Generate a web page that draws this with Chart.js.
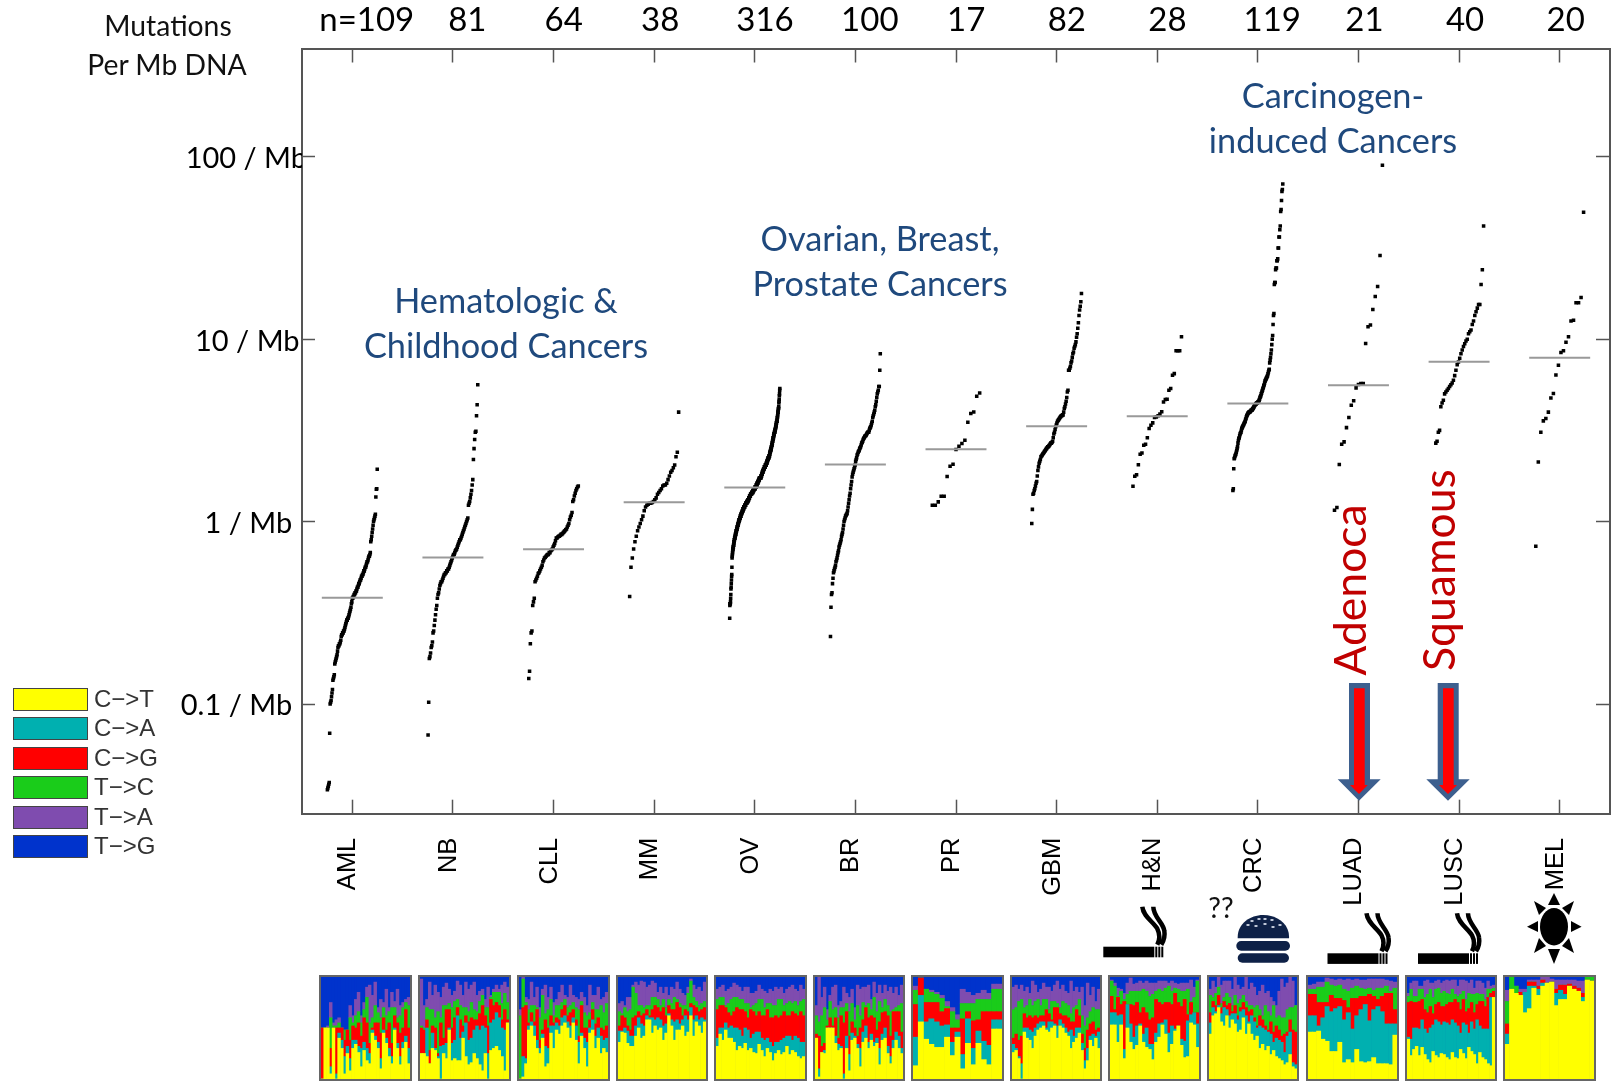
<!DOCTYPE html>
<html><head><meta charset="utf-8">
<script src="https://cdn.jsdelivr.net/npm/chart.js@4/dist/chart.umd.min.js"></script>
<style>
html,body{margin:0;padding:0;background:#fff;width:1614px;height:1081px;overflow:hidden}
#main{position:absolute;left:0;top:0}
.t{position:absolute;white-space:nowrap;transform:translate(-50%,-50%);font-family:Lato,sans-serif;z-index:3}
.blue{color:#1F497D;font-size:34.3px}
.note{color:#111;font-size:28.3px}
.red{color:#C00000;font-size:44.5px;transform:translate(-50%,-50%) rotate(-90deg)}
.strip{position:absolute;top:975px;height:106px;box-sizing:border-box;border:2px solid #666;overflow:hidden;background:#03c}
.strip canvas{display:block}
.sw{position:absolute;left:13px;width:73px;height:21px;border:1px solid #444;z-index:3}
.lg{position:absolute;left:94px;font:24px "Liberation Sans",Arial,sans-serif;color:#333;z-index:3;line-height:23px}
svg#ov{position:absolute;left:0;top:0;z-index:2}
</style></head><body>
<canvas id="main" width="1614" height="1081"></canvas>
<div id="strips"></div>
<div id="labels"></div>
<svg id="ov" width="1614" height="1081" viewBox="0 0 1614 1081">
<defs><g id="cig" fill="#000">
<rect x="0" y="0" width="51" height="10.6"/><rect x="52" y="0" width="2" height="10.6"/><rect x="55" y="0" width="2" height="10.6"/><rect x="58" y="0" width="2" height="10.6"/>
<path d="M39,-40C40,-30 50,-25 54,-18C57,-12 56,-6 54,-2M50,-40C50,-30 60,-24 61,-16C62,-10 60,-5 58,-2" fill="none" stroke="#000" stroke-width="4.5"/>
</g></defs>
<use href="#cig" x="1103.3" y="946.7"/><use href="#cig" x="1327.5" y="953.3"/><use href="#cig" x="1418" y="953.3"/>
<g fill="#0E2147">
<path d="M1237.7,938.3C1237,924 1250,915 1263,915C1277,915 1290,924 1289,938.3Z"/>
<rect x="1236.3" y="941" width="53.7" height="9.7" rx="4.8"/>
<rect x="1237.7" y="953.3" width="51.3" height="9.4" rx="4.7"/>
</g>
<g fill="#cfd6e4"><ellipse cx="1252" cy="921" rx="1.8" ry="1"/><ellipse cx="1259" cy="919" rx="1.8" ry="1"/><ellipse cx="1265" cy="919" rx="1.8" ry="1"/><ellipse cx="1272" cy="920" rx="1.8" ry="1"/><ellipse cx="1248" cy="925" rx="1.8" ry="1"/><ellipse cx="1256" cy="926" rx="1.8" ry="1"/><ellipse cx="1265" cy="924" rx="1.8" ry="1"/><ellipse cx="1273" cy="927" rx="1.8" ry="1"/><ellipse cx="1280" cy="925" rx="1.8" ry="1"/></g>
<g fill="#000"><ellipse cx="1554" cy="926.7" rx="14" ry="18.7"/>
<polygon points="1554,893 1548,905 1560,905"/><polygon points="1554,964 1548,949 1560,949"/><polygon points="1527,926.7 1538,921 1538,932"/><polygon points="1581.6,926.7 1571,921 1571,932"/>
<polygon points="1534,901 1546,908 1539,915"/><polygon points="1574,901 1562,908 1569,915"/><polygon points="1534,953 1546,946 1539,938"/><polygon points="1574,953 1562,946 1569,938"/></g>
<g fill="#3D5F8E"><polygon points="1349,683 1370,683 1370,779.3 1380.7,779.3 1359,800.7 1337.7,779.3 1349,779.3"/><polygon points="1437.7,683 1458.7,683 1458.7,779.3 1469.7,779.3 1448,800.7 1426.3,779.3 1437.7,779.3"/></g>
<g fill="#FF0000"><polygon points="1354,688.3 1364.7,688.3 1364.7,785 1367.7,785 1359,794 1350,785 1354,785"/><polygon points="1443,688.3 1453.7,688.3 1453.7,785 1457,785 1448,794 1439,785 1443,785"/></g>
</svg>
<script>
// ---- categories, tick labels ----
const cancerCodes=["AML","NB","CLL","MM","OV","BR","PR","GBM","H&N","CRC","LUAD","LUSC","MEL"];
const sampleCounts=["n=109","81","64","38","316","100","17","82","28","119","21","40","20"];
const yTickValues=[0.1,1,10,100];
const yTickLabels=["0.1 / Mb","1 / Mb","10 / Mb","100 / Mb"];
// medians (mutations per Mb)
const medians=[0.383,0.635,0.705,1.276,1.537,2.055,2.49,3.33,3.78,4.44,5.59,7.51,7.9];
// ---- per-sample mutation rates, sorted, as log10(mutations per Mb) ----
const AML=[-1.47,-1.46,-1.45,-1.44,-1.43,-1.16,-1.00,-.99,-.98,-.96,-.94,-.92,-.87,-.86,-.85,-.84,-.78,-.77,-.76,-.75,-.74,-.73,-.71,-.69,-.68,-.68,-.67,-.67,-.66,-.65,-.63,-.62,-.62,-.61,-.61,-.60,-.60,-.59,-.58,-.57,-.56,-.55,-.54,-.54,-.53,-.53,-.52,-.51,-.50,-.49,-.48,-.47,-.45,-.44,-.42,-.42,-.41,-.41,-.40,-.40,-.39,-.39,-.38,-.38,-.37,-.36,-.36,-.35,-.34,-.34,-.33,-.32,-.32,-.31,-.30,-.30,-.29,-.29,-.28,-.27,-.27,-.26,-.25,-.25,-.24,-.23,-.22,-.22,-.21,-.20,-.19,-.19,-.18,-.17,-.11,-.10,-.08,-.06,-.04,-.02,0,.01,.02,.03,.04,.135,.177,.18,.287];
const NB=[-1.17,-.99,-.75,-.74,-.72,-.69,-.68,-.66,-.61,-.60,-.57,-.54,-.51,-.48,-.46,-.42,-.40,-.39,-.37,-.35,-.34,-.33,-.33,-.32,-.31,-.30,-.29,-.29,-.28,-.28,-.27,-.27,-.26,-.26,-.25,-.24,-.23,-.22,-.21,-.20,-.19,-.18,-.18,-.17,-.16,-.155,-.15,-.14,-.13,-.12,-.11,-.10,-.10,-.09,-.08,-.07,-.06,-.05,-.04,-.03,-.02,-.01,0,.01,.02,.09,.10,.11,.13,.15,.17,.20,.23,.34,.40,.45,.49,.495,.58,.64,.75];
const CLL=[-.86,-.82,-.67,-.61,-.60,-.46,-.44,-.42,-.33,-.32,-.31,-.30,-.285,-.28,-.27,-.26,-.25,-.24,-.22,-.21,-.20,-.195,-.19,-.185,-.18,-.18,-.17,-.17,-.16,-.155,-.15,-.14,-.13,-.12,-.105,-.09,-.09,-.085,-.08,-.08,-.075,-.07,-.07,-.065,-.06,-.055,-.05,-.045,-.04,-.03,-.02,-.01,.01,.025,.035,.05,.11,.12,.14,.155,.17,.18,.19,.195];
const MM=[-.41,-.25,-.20,-.15,-.11,-.08,-.05,-.03,-.01,.01,.03,.06,.08,.09,.095,.10,.10,.105,.11,.12,.13,.15,.16,.17,.18,.195,.20,.20,.21,.23,.25,.27,.28,.295,.31,.355,.38,.60];
const OV=[-.53,-.46,-.45,-.45,-.45,-.44,-.42,-.40,-.37,-.36,-.34,-.32,-.30,-.29,-.25,-.20,-.19,-.18,-.17,-.16,-.15,-.15,-.14,-.14,-.13,-.13,-.12,-.11,-.11,-.10,-.10,-.09,-.09,-.09,-.08,-.08,-.07,-.07,-.07,-.06,-.06,-.05,-.05,-.05,-.04,-.04,-.04,-.03,-.03,-.03,-.02,-.02,-.02,-.01,-.01,-.01,0,0,0,.01,.01,.01,.01,.02,.02,.02,.02,.03,.03,.03,.03,.04,.04,.04,.04,.05,.05,.05,.05,.05,.06,.06,.06,.06,.07,.07,.07,.07,.07,.08,.08,.08,.08,.08,.08,.09,.09,.09,.09,.09,.09,.10,.10,.10,.10,.10,.10,.10,.11,.11,.11,.11,.11,.11,.11,.12,.12,.12,.12,.12,.13,.13,.13,.13,.13,.14,.14,.14,.14,.14,.14,.15,.15,.15,.15,.15,.15,.15,.16,.16,.16,.16,.16,.16,.16,.16,.17,.17,.17,.17,.17,.17,.18,.18,.18,.18,.18,.18,.18,.18,.19,.19,.19,.19,.19,.19,.19,.20,.20,.20,.20,.20,.21,.21,.21,.21,.21,.22,.22,.22,.22,.22,.23,.23,.23,.23,.23,.24,.24,.24,.24,.24,.24,.24,.24,.24,.24,.25,.25,.25,.25,.26,.26,.26,.26,.27,.27,.27,.27,.28,.28,.28,.28,.29,.29,.29,.29,.29,.30,.30,.30,.30,.30,.30,.31,.31,.31,.31,.31,.31,.32,.32,.32,.32,.33,.33,.33,.33,.34,.34,.34,.34,.35,.35,.35,.35,.35,.36,.36,.36,.36,.37,.37,.38,.38,.38,.39,.39,.39,.40,.40,.40,.41,.41,.42,.42,.42,.43,.43,.44,.44,.45,.45,.46,.46,.46,.47,.47,.48,.48,.48,.49,.49,.49,.50,.50,.50,.51,.51,.52,.52,.53,.53,.54,.54,.55,.55,.55,.56,.57,.57,.58,.59,.60,.60,.61,.62,.62,.63,.65,.66,.67,.69,.70,.72,.73];
const BR=[-.63,-.47,-.40,-.39,-.34,-.31,-.28,-.27,-.26,-.25,-.24,-.22,-.21,-.20,-.185,-.17,-.16,-.14,-.13,-.12,-.11,-.10,-.08,-.07,-.06,-.04,-.02,0,.01,.02,.03,.035,.04,.045,.06,.08,.10,.12,.14,.155,.18,.20,.22,.245,.26,.27,.28,.29,.30,.31,.33,.34,.35,.365,.37,.38,.385,.39,.40,.405,.41,.42,.43,.435,.44,.45,.455,.46,.465,.47,.47,.475,.48,.485,.49,.49,.49,.50,.51,.515,.52,.53,.54,.55,.57,.58,.59,.60,.61,.63,.64,.66,.68,.70,.71,.72,.74,.74,.83,.92];
const PR=[.09,.09,.108,.139,.139,.247,.303,.314,.395,.413,.428,.446,.545,.592,.601,.687,.705];
const GBM=[-.01,.067,.15,.155,.17,.18,.195,.21,.22,.25,.28,.30,.32,.33,.34,.355,.36,.365,.37,.375,.38,.385,.39,.395,.40,.405,.41,.41,.415,.42,.425,.43,.43,.435,.44,.46,.48,.49,.505,.52,.53,.54,.55,.555,.56,.565,.57,.575,.58,.58,.585,.585,.60,.62,.63,.645,.66,.68,.71,.72,.83,.83,.84,.85,.87,.88,.90,.92,.93,.95,.96,.97,.985,1.01,1.03,1.06,1.09,1.13,1.16,1.18,1.205,1.25];
const HN=[.194,.248,.257,.312,.369,.376,.418,.424,.459,.51,.528,.541,.57,.574,.58,.589,.602,.656,.669,.67,.72,.729,.802,.811,.936,.936,.936,1.013];
const CRC=[.17,.18,.29,.345,.35,.36,.365,.37,.38,.39,.40,.41,.43,.445,.455,.46,.47,.48,.485,.49,.50,.51,.515,.52,.525,.53,.535,.54,.545,.55,.56,.565,.575,.58,.585,.59,.595,.595,.60,.60,.60,.605,.605,.61,.61,.61,.615,.62,.62,.625,.63,.635,.64,.64,.645,.645,.65,.65,.65,.655,.655,.66,.665,.67,.68,.685,.69,.70,.705,.715,.72,.73,.735,.745,.75,.76,.77,.775,.78,.785,.79,.795,.80,.81,.82,.83,.835,.87,.885,.90,.92,.94,.97,1.0,1.02,1.08,1.13,1.14,1.30,1.31,1.31,1.38,1.39,1.39,1.43,1.43,1.44,1.50,1.50,1.56,1.56,1.60,1.62,1.70,1.71,1.76,1.81,1.82,1.85];
const LUAD=[.062,.077,.313,.424,.437,.515,.57,.638,.662,.733,.751,.757,.757,.976,1.068,1.077,1.163,1.234,1.289,1.459,1.953];
const LUSC=[-.026,.43,.44,.49,.50,.63,.65,.665,.70,.71,.72,.73,.74,.75,.76,.775,.80,.83,.86,.875,.895,.92,.94,.96,.975,.99,1.0,1.03,1.04,1.05,1.08,1.10,1.13,1.15,1.17,1.19,1.19,1.30,1.38,1.62];
const MEL=[-.135,.327,.49,.552,.565,.6,.678,.702,.803,.857,.927,.936,.983,1.013,1.1,1.104,1.2,1.2,1.228,1.695];
const sampleLog10=[AML,NB,CLL,MM,OV,BR,PR,GBM,HN,CRC,LUAD,LUSC,MEL];

// ---- spectra: cumulative percent at the top of each band, per sample column ----
const subLabels=["C\u2212>T","C\u2212>A","C\u2212>G","T\u2212>C","T\u2212>A","T\u2212>G"];
const subColors=["#FFFF00","#00B0B0","#FF0000","#1ACC1A","#7F4CAF","#0033CC"];
const AML_CT=[0,50,50,5,50,0,40,30,5,25,8,30,34,26,12,28,18,15,45,38,30,10,45,35,22,15,48,30,14,30,36,15];
const AML_CA=[0,50,50,12,50,5,45,38,22,32,20,38,38,32,30,36,30,25,48,42,36,20,48,40,30,22,50,35,22,36,42,30];
const AML_CG=[50,50,50,30,50,50,50,50,38,48,38,52,50,55,42,60,55,35,50,55,55,45,60,48,55,35,62,55,45,50,68,50];
const AML_TC=[50,50,50,60,52,52,55,50,48,48,60,55,62,66,55,68,80,55,60,72,65,60,70,62,66,70,70,60,62,70,75,72];
const AML_TA=[50,50,52,75,55,58,60,50,48,48,72,62,78,85,62,75,90,92,82,95,70,78,75,88,70,85,76,88,72,75,78,80];
const NB_CT=[25,25,22,15,30,28,20,0,25,20,48,18,20,18,18,40,22,14,16,25,20,14,8,25,0,28,30,32,28,22,8,55];
const NB_CA=[25,25,50,15,45,30,22,32,33,35,50,35,38,62,40,46,55,38,40,48,52,48,52,50,25,55,58,65,60,50,48,55];
const NB_CG=[50,48,58,28,52,50,25,55,40,68,68,50,60,70,58,52,62,56,60,58,58,64,72,62,52,78,72,75,72,58,68,58];
const NB_TC=[52,50,70,68,68,60,66,60,72,72,74,70,76,78,72,70,70,66,75,68,66,76,82,70,70,80,85,85,85,74,84,75];
const NB_TA=[98,72,78,95,82,92,85,80,90,94,88,82,86,96,92,82,95,88,92,95,82,86,88,78,90,82,88,92,88,92,95,90];
const CLL_CT=[0,2,15,48,52,42,30,25,40,12,15,45,30,48,44,52,55,50,40,55,38,15,42,30,12,45,48,30,40,25,30,26];
const CLL_CA=[0,22,20,52,56,52,38,30,44,32,30,52,52,55,52,60,62,56,52,60,52,36,45,40,36,50,58,42,50,42,38,40];
const CLL_CG=[0,70,72,55,65,56,68,38,48,58,50,62,55,60,58,68,72,62,65,68,58,42,72,50,50,58,68,54,60,50,48,52];
const CLL_TC=[62,98,75,68,72,72,70,60,82,64,68,78,62,72,72,75,78,70,72,75,70,68,76,65,62,65,75,68,68,72,65,74];
const CLL_TA=[68,100,80,78,95,80,90,70,88,92,80,90,75,78,85,92,82,80,92,82,80,78,85,80,72,92,82,82,90,78,80,85];
const MM_CT=[36,46,45,35,32,32,42,50,40,42,58,58,45,52,48,50,38,45,62,52,38,48,48,52,42,46,62,42,56,52,45,56];
const MM_CA=[47,47,50,47,42,42,52,60,54,52,62,60,60,58,60,58,52,54,64,58,56,58,54,58,62,58,70,58,62,58,60,58];
const MM_CG=[52,62,60,52,48,60,62,66,62,64,68,62,68,72,70,66,70,62,72,68,68,75,70,62,68,66,74,72,70,66,68,70];
const MM_TC=[66,64,70,66,68,90,84,72,72,70,72,72,80,80,78,72,78,70,78,74,80,78,74,72,72,84,96,80,76,72,74,76];
const MM_TA=[74,76,72,80,80,92,95,92,96,95,90,92,96,94,85,90,84,90,82,90,88,95,88,84,82,90,98,92,88,90,86,95];
const OV_CT=[32,44,38,48,40,40,36,28,32,30,35,28,30,26,25,34,28,22,30,26,18,25,28,24,26,32,24,28,26,22,20,22];
const OV_CA=[40,50,50,55,50,52,50,50,48,42,50,48,40,44,46,46,40,38,40,36,32,36,36,38,40,42,42,38,42,40,36,36];
const OV_CG=[68,72,72,70,65,62,66,70,68,68,66,60,68,66,62,66,62,62,68,60,60,62,60,62,66,62,62,66,64,62,66,62];
const OV_TC=[78,80,80,72,74,78,80,80,78,78,74,74,70,72,74,78,78,70,74,74,72,72,78,78,72,74,76,74,76,72,76,78];
const OV_TA=[88,90,92,86,88,90,94,92,90,86,90,90,84,84,86,92,88,86,84,88,86,90,88,90,84,88,90,92,88,86,92,88];
const BR_CT=[40,2,26,25,50,50,50,35,28,30,0,30,8,38,40,30,12,36,40,30,38,32,35,14,38,40,25,15,30,38,30,25];
const BR_CA=[40,10,26,28,50,50,50,42,34,32,5,42,24,45,42,34,30,46,52,36,44,36,40,30,44,50,32,22,38,46,42,30];
const BR_CG=[44,42,32,35,52,60,52,60,40,62,55,66,42,56,50,42,50,58,70,60,62,60,48,56,65,66,62,42,66,66,66,46];
const BR_TC=[62,56,62,70,58,76,68,70,60,70,70,74,66,74,58,72,62,75,72,74,68,80,66,76,70,78,72,66,68,70,72,74];
const BR_TA=[72,100,80,90,68,82,90,92,72,76,90,84,80,88,70,92,88,90,90,92,78,95,84,92,84,92,86,90,84,90,82,92];
const PR_CT=[13,56,39,34,31,31,41,23,41,10,35,14,35,19,14,49,49];
const PR_CA=[41,82,56,59,56,52,53,36,46,24,59,30,47,37,33,58,58];
const PR_CG=[73,99,75,75,75,66,69,50,50,59,66,57,58,66,66,66,66];
const PR_TC=[87,99,88,85,83,79,71,66,58,74,74,74,78,78,78,88,88];
const PR_TA=[91,99,88,87,85,82,76,70,63,88,85,82,84,87,84,93,93];
const GBM_CT=[26,28,20,0,46,40,38,30,42,48,50,52,48,46,50,52,40,52,50,45,42,30,36,40,45,28,10,18,38,32,40,30];
const GBM_CA=[34,30,22,15,50,50,48,46,50,54,56,56,50,56,56,54,52,58,54,50,46,48,42,50,50,35,18,30,42,44,42,46];
const GBM_CG=[40,44,38,42,64,60,62,60,62,60,62,62,68,64,58,70,70,64,62,62,60,56,56,68,62,44,30,48,54,56,48,50];
const GBM_TC=[68,70,76,78,70,72,78,72,76,78,72,78,78,68,76,76,74,70,76,74,72,64,70,72,78,62,52,60,66,70,68,68];
const GBM_TA=[90,92,88,92,86,90,84,96,92,85,88,94,90,90,86,92,96,88,92,86,84,96,86,90,85,90,72,94,82,90,76,88];
const HN_CT=[53,53,36,53,20,50,36,29,33,52,36,31,29,19,36,41,53,44,26,34,47,52,33,21,22,55,53,31];
const HN_CA=[65,65,62,63,29,73,54,41,52,54,44,50,34,34,45,54,55,58,45,52,49,52,39,37,57,63,65,54];
const HN_CG=[81,68,80,73,76,68,73,72,75,65,70,65,58,60,78,75,73,75,75,73,84,75,71,78,63,75,63,65];
const HN_TC=[96,91,81,86,78,78,86,86,86,86,88,86,81,83,86,88,86,89,91,86,89,88,86,86,88,76,78,96];
const HN_TA=[97,94,89,88,84,89,99,93,94,96,94,96,94,94,94,96,96,96,94,96,94,93,94,94,94,97,88,97];
const CRC_CT=[44,62,64,70,56,52,62,50,58,54,46,48,60,44,54,44,38,42,30,34,28,32,24,28,22,20,18,14,16,24,12,10];
const CRC_CA=[55,70,66,72,64,70,68,62,64,64,58,66,68,62,56,62,56,50,52,50,48,46,44,36,40,38,36,26,42,46,16,14];
const CRC_CG=[65,76,72,82,70,76,72,74,66,72,62,70,75,70,66,68,60,52,62,58,52,48,56,46,52,48,42,44,46,58,48,46];
const CRC_TC=[82,80,84,90,74,80,84,80,72,82,74,78,82,76,72,72,70,72,68,62,72,66,62,72,60,62,60,60,68,70,70,72];
const CRC_TA=[88,96,90,100,92,96,96,96,88,100,92,88,90,100,88,94,90,82,86,92,84,86,80,76,72,86,98,90,94,100,96,72];
const LUAD_CT=[46,46,47,39,37,27,27,36,16,19,16,29,17,16,17,21,15,15,15,14,43];
const LUAD_CA=[62,62,52,60,71,66,69,71,58,65,49,62,68,73,57,68,71,66,54,54,54];
const LUAD_CG=[83,83,75,75,75,82,79,79,77,70,79,79,81,81,83,81,78,81,84,84,68];
const LUAD_TC=[88,88,90,90,95,92,91,92,88,86,89,91,89,88,89,87,89,89,91,86,89];
const LUAD_TA=[92,93,95,95,99,98,97,98,97,98,97,98,97,97,98,98,98,98,97,96,95];
const LUSC_CT=[39,23,29,32,23,31,24,19,16,27,23,21,25,24,21,19,26,21,20,29,25,20,31,27,24,15,26,21,19,15,13,80];
const LUSC_CA=[41,39,50,50,49,58,49,45,50,53,58,56,53,56,55,53,58,55,52,45,55,53,45,56,49,58,52,49,49,49,80,80];
const LUSC_CG=[75,76,75,75,76,78,68,65,71,64,73,75,71,71,73,75,75,78,75,68,78,66,69,75,65,73,76,76,71,80,84,86];
const LUSC_TC=[81,88,81,81,88,88,80,83,88,80,88,89,84,86,84,83,88,83,81,83,86,78,84,83,83,84,83,83,78,88,88,89];
const LUSC_TA=[84,94,96,96,91,91,96,97,94,94,96,97,94,96,97,96,97,97,91,97,97,96,94,97,89,96,96,94,89,96,91,92];
const MEL_CT=[34,88,84,82,65,69,89,82,91,94,95,72,78,78,91,88,86,76,97,96];
const MEL_CA=[44,88,84,82,85,91,91,88,94,94,95,84,87,83,91,88,86,80,97,96];
const MEL_CG=[54,88,84,85,85,95,95,91,97,94,95,88,92,92,93,91,89,84,97,96];
const MEL_TC=[76,100,91,85,85,95,95,91,97,94,95,88,92,92,93,91,89,84,100,100];
const MEL_TA=[87,100,91,88,88,97,97,97,100,100,98,97,97,97,97,97,96,96,100,100];
const spectra=[[AML_CT,AML_CA,AML_CG,AML_TC,AML_TA],[NB_CT,NB_CA,NB_CG,NB_TC,NB_TA],[CLL_CT,CLL_CA,CLL_CG,CLL_TC,CLL_TA],[MM_CT,MM_CA,MM_CG,MM_TC,MM_TA],[OV_CT,OV_CA,OV_CG,OV_TC,OV_TA],[BR_CT,BR_CA,BR_CG,BR_TC,BR_TA],[PR_CT,PR_CA,PR_CG,PR_TC,PR_TA],[GBM_CT,GBM_CA,GBM_CG,GBM_TC,GBM_TA],[HN_CT,HN_CA,HN_CG,HN_TC,HN_TA],[CRC_CT,CRC_CA,CRC_CG,CRC_TC,CRC_TA],[LUAD_CT,LUAD_CA,LUAD_CG,LUAD_TC,LUAD_TA],[LUSC_CT,LUSC_CA,LUSC_CG,LUSC_TC,LUSC_TA],[MEL_CT,MEL_CA,MEL_CG,MEL_TC,MEL_TA]];

// ---- layout (not data) ----
const F={l:302,r:1610,t:48.5,b:813.7};
const stripBox=[[320,411],[419,510],[518,609],[617,707],[715,806],[814,904],[912,1003],[1011,1101],[1109,1200],[1208,1298],[1307,1398],[1406,1496],[1504,1595]];
const topShift=[2,2,1,0,1,2,1,1,1,2,0,0,0];
const ySpaces=[2,2,1,0];
const frame='#555';

const sampleSets=sampleLog10.map((vals,i)=>({type:'scatter',label:cancerCodes[i],
  data:vals.map((v,k)=>({x:i-0.25+0.5*(k+0.5)/vals.length,y:Math.pow(10,v)})),
  pointStyle:'rect',pointRadius:2.5,pointBackgroundColor:'#000',pointBorderWidth:0,showLine:false,order:2}));
const medianData=[];
medians.forEach((m,i)=>{medianData.push({x:i-0.303,y:m},{x:i+0.303,y:m},{x:i,y:null});});
const medianSet={type:'line',label:'median',data:medianData,borderColor:'#999',borderWidth:2,pointRadius:0,spanGaps:false,order:1};
const gridOpt={drawOnChartArea:false,tickLength:-14,tickColor:frame,tickWidth:1.5};
const borderOpt={color:frame,width:2};
const catTicks=s=>{s.ticks=cancerCodes.map((c,i)=>({value:i}));};
const decTicks=s=>{s.ticks=yTickValues.map(v=>({value:v}));};
const noPad=s=>{s.paddingLeft=s.paddingRight=s.paddingTop=s.paddingBottom=0;};

new Chart(document.getElementById('main'),{
  data:{datasets:[medianSet,...sampleSets]},
  options:{responsive:false,animation:false,devicePixelRatio:1,
    layout:{padding:0},
    plugins:{legend:{display:false},tooltip:{enabled:false}},
    scales:{
      x:{type:'linear',position:'bottom',min:-0.5,max:12.5,afterBuildTicks:catTicks,
         afterFit:s=>{s.height=1081-F.b;noPad(s);},
         grid:gridOpt,border:borderOpt,
         ticks:{autoSkip:false,minRotation:90,maxRotation:90,padding:38,labelOffset:-4,color:'#000',font:{family:'"Liberation Sans",Arial,sans-serif',size:25.5},callback:(v,i)=>cancerCodes[i]}},
      x2:{type:'linear',axis:'x',position:'top',min:-0.5,max:12.5,afterBuildTicks:catTicks,
         afterFit:s=>{s.height=F.t;noPad(s);},
         grid:gridOpt,border:borderOpt,
         ticks:{autoSkip:false,maxRotation:0,padding:22,labelOffset:6,color:'#000',font:{family:'Lato,sans-serif',size:33},callback:(v,i)=>' '.repeat(topShift[i])+sampleCounts[i]}},
      y:{type:'logarithmic',position:'left',min:Math.pow(10,-1.601),max:Math.pow(10,2.593),afterBuildTicks:decTicks,
         afterFit:s=>{s.width=F.l;noPad(s);},
         grid:Object.assign({},gridOpt,{tickLength:-13}),border:borderOpt,
         ticks:{autoSkip:false,padding:8,labelOffset:2,color:'#000',font:{family:'Lato,sans-serif',size:29},callback:(v,i)=>yTickLabels[i]+' '.repeat(ySpaces[i])}},
      y2:{type:'logarithmic',axis:'y',position:'right',min:Math.pow(10,-1.601),max:Math.pow(10,2.593),afterBuildTicks:decTicks,
         afterFit:s=>{s.width=1614-F.r;noPad(s);},
         grid:gridOpt,border:borderOpt,ticks:{display:false}}
    }}});

// ---- spectra strips: one stacked bar chart per cancer ----
const stripsEl=document.getElementById('strips');
spectra.forEach((tops,i)=>{
  const [l,r]=stripBox[i];
  const d=document.createElement('div');d.className='strip';d.style.left=(l-1)+'px';d.style.width=(r-l+2)+'px';
  const c=document.createElement('canvas');c.width=r-l-2;c.height=102;d.appendChild(c);stripsEl.appendChild(d);
  const cols=tops[0].map((_,k)=>String(k+1));
  const bands=subLabels.map((lab,b)=>({label:lab,backgroundColor:subColors[b],borderWidth:0,barPercentage:1,categoryPercentage:1,
    data:cols.map((_,k)=>{const lo=b?tops[b-1][k]:0;const hi=b<5?tops[b][k]:100;return Math.max(0,hi-lo);})}));
  new Chart(c,{type:'bar',data:{labels:cols,datasets:bands},options:{responsive:false,animation:false,devicePixelRatio:1,layout:{padding:0},
    plugins:{legend:{display:false},tooltip:{enabled:false}},
    scales:{x:{stacked:true,display:false},y:{stacked:true,display:false,min:0,max:100}}}});
});

// ---- text notes and legend ----
const lab=document.getElementById('labels');
const notes=[["Mutations",168,24.5,"note"],["Per Mb DNA",167,63.5,"note"],
 ["Hematologic &",506,298.5,"blue"],["Childhood Cancers",506,343.5,"blue"],
 ["Ovarian, Breast,",880,236.5,"blue"],["Prostate Cancers",880,282,"blue"],
 ["Carcinogen-",1333,93.5,"blue"],["induced Cancers",1333,139,"blue"],
 ["??",1221,907,"note"],["Adenoca",1348,590,"red"],["Squamous",1437,570,"red"]];
notes.forEach(([s,x,y,k])=>{const e=document.createElement('div');e.className='t '+k;e.textContent=s;e.style.left=x+'px';e.style.top=y+'px';lab.appendChild(e);});
const rowTops=[688,717,747,776,806,835];
subLabels.forEach((s,i)=>{
  const q=document.createElement('div');q.className='sw';q.style.top=rowTops[i]+'px';q.style.background=subColors[i];lab.appendChild(q);
  const t=document.createElement('div');t.className='lg';t.style.top=(rowTops[i]-1)+'px';t.textContent=s;lab.appendChild(t);
});
</script>
</body></html>
